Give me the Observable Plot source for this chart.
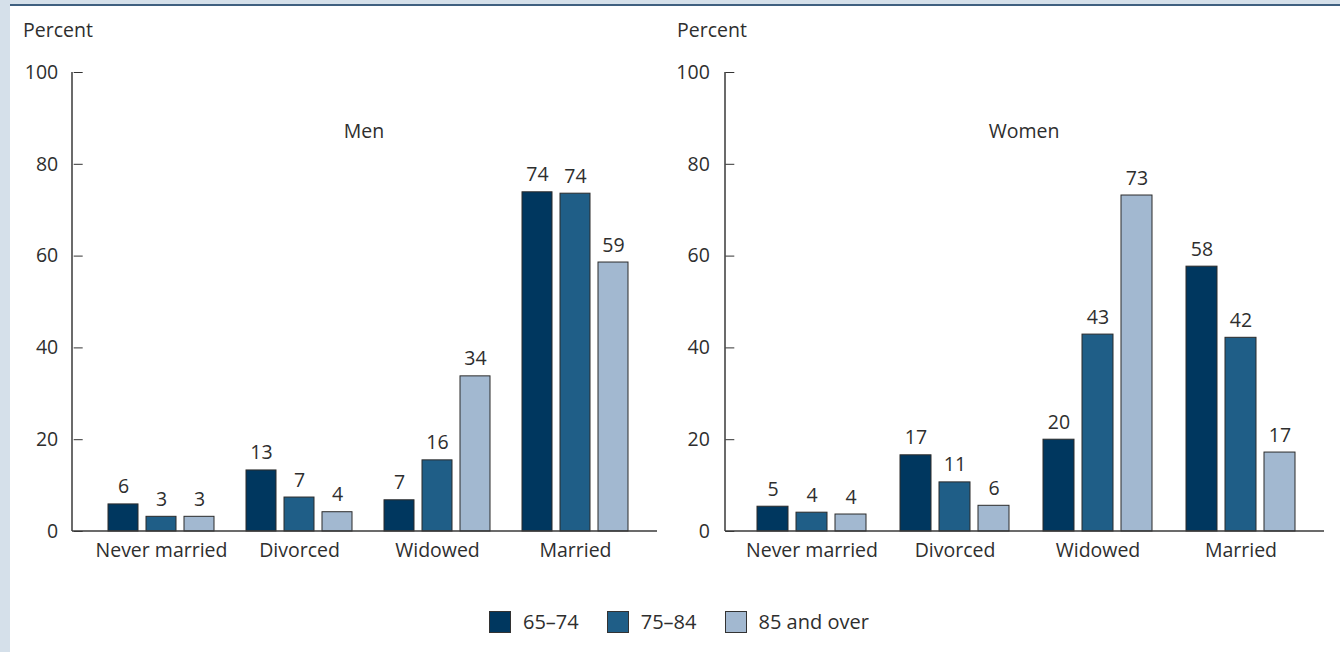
<!DOCTYPE html>
<html><head><meta charset="utf-8">
<script src="https://cdn.jsdelivr.net/npm/d3@7"></script>
<script src="https://cdn.jsdelivr.net/npm/@observablehq/plot@0.6"></script>
<style>
body{margin:0;width:1340px;height:652px;position:relative;overflow:hidden;background:#fff;font-family:"Open Sans",sans-serif;color:#2e2e2e}
#stripLeft{position:absolute;left:0;top:0;width:10px;height:652px;background:#d5e0ea}
#stripTop{position:absolute;left:0;top:0;width:1340px;height:4px;background:#d5e0ea}
#ruleTop{position:absolute;left:10px;top:4px;width:1330px;height:2px;background:#3f6080}
.panel{position:absolute;top:6px}
.ylab{position:absolute;top:17px;font-size:19.5px;line-height:26px}
.title{position:absolute;top:118px;font-size:19.5px;line-height:26px;transform:translateX(-50%)}
#legend{position:absolute;left:489px;top:609px;display:flex;align-items:center;font-size:20px;line-height:26px}
#legend .item{display:flex;align-items:center;margin-right:28px}
#legend .sw{width:20px;height:20px;border:1px solid #333;margin-right:12px}
</style></head>
<body>
<div id="stripLeft"></div><div id="stripTop"></div><div id="ruleTop"></div>
<div id="left" class="panel" style="left:10px"></div>
<div id="right" class="panel" style="left:665px"></div>
<div class="ylab" style="left:23px">Percent</div>
<div class="ylab" style="left:677px">Percent</div>
<div class="title" style="left:364px">Men</div>
<div class="title" style="left:1024px">Women</div>
<div id="legend"></div>
<script>
const categories = ["Never married", "Divorced", "Widowed", "Married"];
const ages = ["65–74", "75–84", "85 and over"];
const colors = ["#00375f", "#1f5e87", "#a2b8d0"];
const yTicks = [0, 20, 40, 60, 80, 100];
// values per age group, in category order
const men6574 = [5.9, 13.3, 6.8, 73.9];
const men7584 = [3.2, 7.4, 15.5, 73.6];
const men85 = [3.2, 4.2, 33.8, 58.6];
const women6574 = [5.4, 16.6, 20.0, 57.7];
const women7584 = [4.1, 10.7, 42.9, 42.2];
const women85 = [3.7, 5.6, 73.2, 17.2];

function panel(series, o) {
  const data = [];
  categories.forEach((c, i) => ages.forEach((a, j) => data.push({category: c, age: a, value: series[j][i]})));
  const n = categories.length;
  const frameW = o.width - o.marginLeft - o.marginRight;
  const step = frameW / (n + 2 * o.fxPad);
  const offset = (frameW - step * n) * o.fxAlign;
  const svg = Plot.plot({
    width: o.width, height: o.height,
    marginLeft: o.marginLeft, marginRight: o.marginRight, marginTop: o.marginTop, marginBottom: o.marginBottom,
    style: {fontFamily: "Open Sans", fontSize: "19.5px", color: "#2e2e2e", background: "transparent", overflow: "visible"},
    fx: {domain: categories, paddingInner: 0, paddingOuter: o.fxPad, align: o.fxAlign, label: null},
    x: {domain: ages, paddingInner: 0.2, paddingOuter: o.xPad, axis: null},
    y: {domain: [0, 100], label: null},
    color: {domain: ages, range: colors},
    marks: [
      Plot.barY(data, {fx: "category", x: "age", y: "value", fill: "age", stroke: "#2b2b2b", strokeWidth: 1}),
      Plot.text(data, {fx: "category", x: "age", y: "value", text: d => String(Math.round(d.value)), lineAnchor: "bottom", dy: -11, fill: "#2e2e2e", fontSize: 19.5}),
      Plot.axisY(yTicks, {anchor: "left", tickSize: -9, tickPadding: 25, dx: -offset, fontSize: 19.5, label: null, stroke: "#333", fill: "#2e2e2e"}),
      Plot.axisFx({anchor: "bottom", tickSize: 0, tickPadding: 12, fontSize: 19.5, label: null, fill: "#2e2e2e"})
    ]
  });
  const y = svg.scale("y");
  const g = d3.select(svg).append("g").attr("stroke", "#3a3a3a").attr("stroke-width", 1.5);
  g.append("line").attr("x1", o.marginLeft).attr("x2", o.width - o.marginRight)
    .attr("y1", y.apply(0)).attr("y2", y.apply(0));
  g.append("line").attr("x1", o.marginLeft).attr("x2", o.marginLeft)
    .attr("y1", y.apply(100)).attr("y2", y.apply(0));
  return svg;
}

document.getElementById("left").appendChild(panel([men6574, men7584, men85], {
  width: 655, height: 574, marginLeft: 62, marginRight: 8, marginTop: 66, marginBottom: 49,
  fxPad: 0.11, fxAlign: 0.6, xPad: 0.39
}));
document.getElementById("right").appendChild(panel([women6574, women7584, women85], {
  width: 675, height: 574, marginLeft: 60, marginRight: 16, marginTop: 66, marginBottom: 49,
  fxPad: 0.09, fxAlign: 0.57, xPad: 0.42
}));

const legend = document.getElementById("legend");
ages.forEach((a, i) => {
  const it = document.createElement("div"); it.className = "item";
  const sw = document.createElement("div"); sw.className = "sw"; sw.style.background = colors[i];
  const t = document.createElement("span"); t.textContent = a;
  it.appendChild(sw); it.appendChild(t); legend.appendChild(it);
});
</script>
</body></html>
